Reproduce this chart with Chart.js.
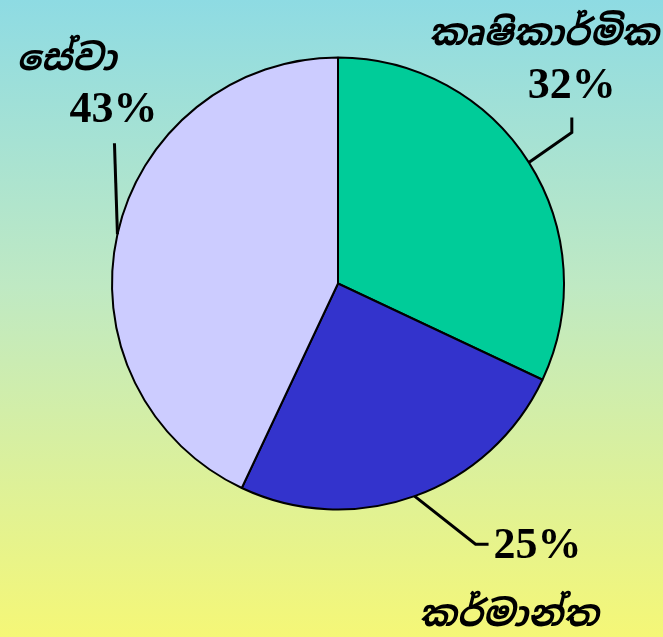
<!DOCTYPE html>
<html>
<head>
<meta charset="utf-8">
<script src="https://cdn.jsdelivr.net/npm/chart.js@4.4.1/dist/chart.umd.min.js"></script>
<style>
  html, body { margin: 0; padding: 0; }
  body { width: 663px; height: 637px; overflow: hidden; }
  #wrap { position: relative; width: 663px; height: 637px; }
</style>
</head>
<body>
<div id="wrap"><canvas id="pie"></canvas></div>
<script>
// ========
// Data
// ========
const categories = ["කෘෂිකාර්මික", "කර්මාන්ත", "සේවා"];
const shares = [32, 25, 43];
const sliceColors = ["#00CC99", "#3333CC", "#CCCCFF"];

// Leader line / label placement, relative to the slice's edge point
const labelLayout = [
    { elbow: [43, -30], end: [43, -45], pct: [43, -76, "center"], name: [130, -127, "right"] },
    { elbow: [61, 48], end: [74, 48], pct: [79, 51, "left"], name: [94, 120, "center"] },
    { elbow: [-3, -91], end: [-3, -91], pct: [-4, -124, "center"], name: [-101, -174, "left"] }
];

const SINHALA_FONT = "italic bold 36px 'Noto Sans Sinhala', 'Noto Serif Sinhala', 'Iskoola Pota', sans-serif";
const PCT_FONT = "bold 44px 'Liberation Serif', 'Times New Roman', serif";

// ==================
// Background plugin
// ==================
const bgPlugin = {
    id: "bg",
    beforeDraw(chart) {
        const { ctx, width, height } = chart;
        const g = ctx.createLinearGradient(0, 0, 0, height);
        g.addColorStop(0, "#8EDBE3");
        g.addColorStop(0.45, "#BFE9C3");
        g.addColorStop(1, "#F5F777");
        ctx.save();
        ctx.fillStyle = g;
        ctx.fillRect(0, 0, width, height);
        ctx.restore();
    }
};

// ===================
// Labels + leaders
// ===================
const labelPlugin = {
    id: "sliceLabels",
    afterDatasetsDraw(chart) {
        const { ctx } = chart;
        const meta = chart.getDatasetMeta(0);
        meta.data.forEach((arc, i) => {
            const mid = (arc.startAngle + arc.endAngle) / 2;
            const ex = arc.x + Math.cos(mid) * arc.outerRadius;
            const ey = arc.y + Math.sin(mid) * arc.outerRadius;
            const L = labelLayout[i];

            ctx.save();
            ctx.strokeStyle = "#000";
            ctx.lineWidth = 3;
            ctx.beginPath();
            ctx.moveTo(ex, ey);
            ctx.lineTo(ex + L.elbow[0], ey + L.elbow[1]);
            ctx.lineTo(ex + L.end[0], ey + L.end[1]);
            ctx.stroke();

            ctx.fillStyle = "#000";
            ctx.textBaseline = "middle";
            ctx.font = PCT_FONT;
            ctx.textAlign = L.pct[2];
            ctx.fillText(shares[i] + "%", ex + L.pct[0], ey + L.pct[1]);

            ctx.font = SINHALA_FONT;
            ctx.textAlign = L.name[2];
            ctx.fillText(categories[i], ex + L.name[0], ey + L.name[1]);
            ctx.restore();
        });
    }
};

new Chart(document.getElementById("pie"), {
    type: "pie",
    data: {
        labels: categories,
        datasets: [{
            data: shares,
            backgroundColor: sliceColors,
            borderColor: "#000",
            borderWidth: 2
        }]
    },
    options: {
        responsive: true,
        maintainAspectRatio: false,
        animation: false,
        layout: { padding: { top: 56, bottom: 126, left: 111, right: 98 } },
        plugins: {
            legend: { display: false },
            tooltip: { enabled: false }
        }
    },
    plugins: [bgPlugin, labelPlugin]
});
</script>
</body>
</html>
